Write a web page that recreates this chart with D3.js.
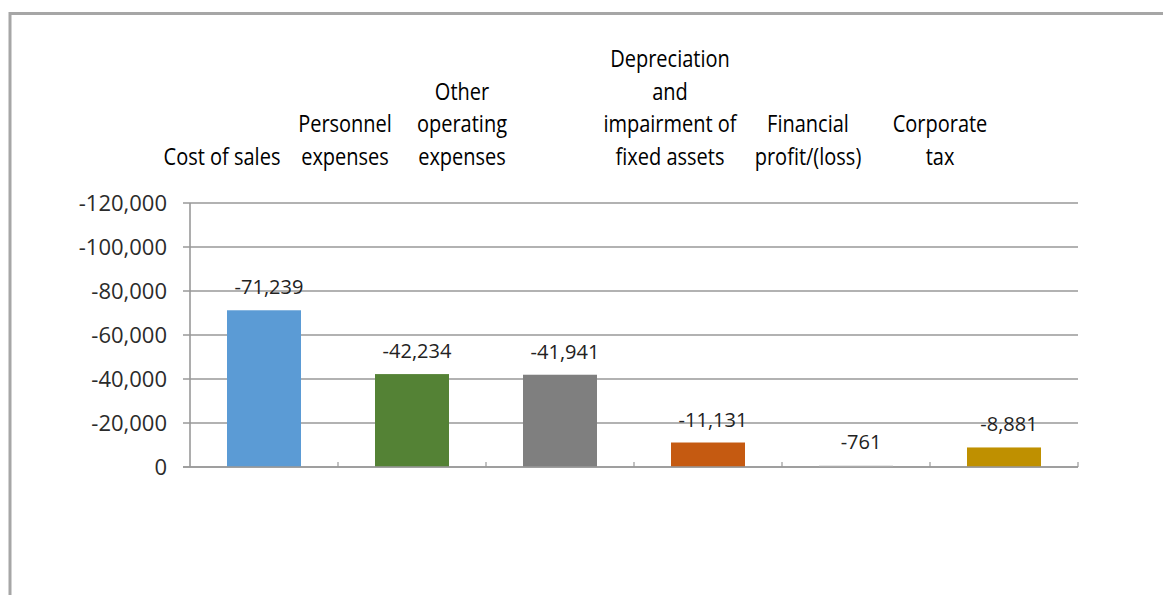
<!DOCTYPE html>
<html>
<head>
<meta charset="utf-8">
<script src="https://cdn.jsdelivr.net/npm/d3@7"></script>
<style>
  html, body { margin: 0; padding: 0; background: #ffffff; }
  svg { display: block; }
  text { font-family: "Open Sans", "Noto Sans", sans-serif; }
</style>
</head>
<body>
<svg id="chart" width="1163" height="595"></svg>
<script>
// Expense categories and their amounts (thousands)
const categories = [
  "Cost of sales",
  "Personnel expenses",
  "Other operating expenses",
  "Depreciation and impairment of fixed assets",
  "Financial profit/(loss)",
  "Corporate tax"
];
const categoryLines = [
  ["Cost of sales"],
  ["Personnel", "expenses"],
  ["Other", "operating", "expenses"],
  ["Depreciation", "and", "impairment of", "fixed assets"],
  ["Financial", "profit/(loss)"],
  ["Corporate", "tax"]
];
const values = [-71239, -42234, -41941, -11131, -761, -8881];
const barColors = ["#5B9BD5", "#548235", "#7F7F7F", "#C55A11", "#DCDCDC", "#BF9000"];
const yTicks = [0, -20000, -40000, -60000, -80000, -100000, -120000];
// Horizontal nudges for the header labels (px)
const headerNudge = [18, -7, -38, 22, 12, -4];

const fmt = d3.formatLocale({
  decimal: ".", thousands: ",", grouping: [3], currency: ["", ""], minus: "-"
}).format(",");

const svg = d3.select("#chart");

// Outer frame (left and top edges)
svg.append("path")
  .attr("d", "M10,595V13.5H1163")
  .attr("fill", "none")
  .attr("stroke", "#a6a6a6")
  .attr("stroke-width", 3);

const plot = { left: 190, right: 1078, top: 203, bottom: 467 };

const x = d3.scaleBand()
  .domain(categories)
  .range([plot.left, plot.right])
  .paddingInner(0.5)
  .paddingOuter(0.25);

// Reversed value axis: more negative values sit higher
const y = d3.scaleLinear()
  .domain([0, -120000])
  .range([plot.bottom, plot.top]);

// Horizontal gridlines
svg.append("g")
  .selectAll("line")
  .data(yTicks)
  .join("line")
  .attr("x1", plot.left - 7)
  .attr("x2", plot.right)
  .attr("y1", d => y(d))
  .attr("y2", d => y(d))
  .attr("stroke", "#999999")
  .attr("stroke-width", 1.6);

// Bars
svg.append("g")
  .selectAll("rect")
  .data(values)
  .join("rect")
  .attr("x", (d, i) => x(categories[i]))
  .attr("width", x.bandwidth())
  .attr("y", d => Math.min(y(d), y(0)))
  .attr("height", d => Math.abs(y(0) - y(d)))
  .attr("fill", (d, i) => barColors[i]);

// Value axis line
svg.append("line")
  .attr("x1", plot.left).attr("x2", plot.left)
  .attr("y1", plot.top).attr("y2", plot.bottom)
  .attr("stroke", "#999999")
  .attr("stroke-width", 1.6);

// Category axis baseline and tick marks at band boundaries
svg.append("line")
  .attr("x1", plot.left - 7).attr("x2", plot.right)
  .attr("y1", y(0)).attr("y2", y(0))
  .attr("stroke", "#999999")
  .attr("stroke-width", 1.6);

svg.append("g")
  .selectAll("line")
  .data(d3.range(1, categories.length + 1))
  .join("line")
  .attr("x1", i => x.range()[0] + i * x.step())
  .attr("x2", i => x.range()[0] + i * x.step())
  .attr("y1", y(0))
  .attr("y2", y(0) - 5)
  .attr("stroke", "#999999")
  .attr("stroke-width", 1.2);

// Value axis labels
svg.append("g")
  .selectAll("text")
  .data(yTicks)
  .join("text")
  .attr("x", plot.left - 23)
  .attr("y", d => y(d))
  .attr("dy", "0.35em")
  .attr("text-anchor", "end")
  .attr("font-size", 22)
  .attr("fill", "#2b2b2b")
  .text(d => fmt(d));

// Data labels above each bar
svg.append("g")
  .selectAll("text")
  .data(values)
  .join("text")
  .attr("x", (d, i) => x(categories[i]) + x.bandwidth() / 2 + 5)
  .attr("y", d => y(d) - 16)
  .attr("text-anchor", "middle")
  .attr("font-size", 20)
  .attr("fill", "#222222")
  .text(d => fmt(d));

// Category labels set as a header row above the plot, bottom-aligned
const lineGap = 32.5;
const stretch = 1.19;
const header = svg.append("g")
  .selectAll("g")
  .data(categories)
  .join("g")
  .attr("transform", (c, i) =>
    `translate(${x(c) + x.bandwidth() / 2 - 60 + headerNudge[i]},164.5) scale(1,${stretch})`);

header.each(function (c, i) {
  const lines = categoryLines[i];
  d3.select(this).selectAll("text")
    .data(lines)
    .join("text")
    .attr("x", 0)
    .attr("y", (t, j) => -(lines.length - 1 - j) * lineGap / stretch)
    .attr("text-anchor", "middle")
    .attr("font-size", 20)
    .attr("fill", "#000000")
    .text(t => t);
});
</script>
</body>
</html>
